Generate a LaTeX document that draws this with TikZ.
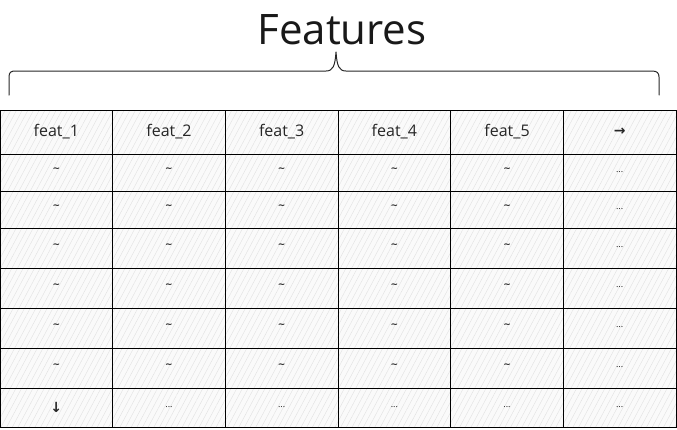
\documentclass[tikz,border=0pt]{standalone}
\usepackage{fontspec}
\setmainfont{Open Sans}
\newfontfamily\symfont{DejaVu Sans}
\usetikzlibrary{patterns.meta}
\begin{document}
\begin{tikzpicture}[x=1pt,y=-1pt,
  cellbox/.style={draw=black, line width=0.9pt, anchor=north west, inner sep=0pt, outer sep=0pt,
    minimum width=112.67pt, text=black!85,
    preaction={fill=gray!4},
    pattern={Lines[angle=62,distance=5pt,line width=0.35pt]}, pattern color=gray!25},
  headtxt/.style={font=\fontsize{16}{18}\selectfont},
  smalltxt/.style={font=\fontsize{9}{10}\selectfont},
  tildetxt/.style={font=\symfont\bfseries\fontsize{9}{10}\selectfont},
  arrowtxt/.style={font=\symfont\bfseries\fontsize{14}{14}\selectfont},
  bracestyle/.style={draw=black!85, line width=1pt, line cap=round, line join=round}]
\useasboundingbox (0,0) rectangle (677,429);
% title
\node[font=\fontsize{42}{46}\selectfont, text=black!90] (title) at (342,30) {Features};
% brace
\draw[bracestyle] (9,95) -- (9,77) .. controls (9,72) and (11,71) .. (16,71) -- (326,71)
  .. controls (333,71) and (335,66) .. (336,52)
  .. controls (337,66) and (339,71) .. (346,71) -- (652,71)
  .. controls (657,71) and (659,73) .. (659,77) -- (659,95);
% header row
\foreach \i/\t in {1/feat\_1,2/feat\_2,3/feat\_3,4/feat\_4,5/feat\_5} {
  \node[cellbox, headtxt, minimum height=44pt] (h\i) at ({(\i-1)*112.67},110) {\t};
}
\node[cellbox, arrowtxt, minimum height=44pt] (h6) at (563.33,110) {→};
% body rows
\foreach \r/\top/\h in {1/154/37,2/191/37,3/228/40,4/268/40,5/308/40,6/348/40} {
  \foreach \i in {1,...,5} {
    \node[cellbox, tildetxt, minimum height=\h pt, text depth=5pt] (c\r-\i) at ({(\i-1)*112.67},\top) {\textasciitilde};
  }
  \node[cellbox, smalltxt, minimum height=\h pt, text height=0pt] (c\r-6) at (563.33,\top) {...};
}
% last row
\node[cellbox, arrowtxt, minimum height=39pt] (c7-1) at (0,388) {↓};
\foreach \i in {2,...,6} {
  \node[cellbox, smalltxt, minimum height=39pt] (c7-\i) at ({(\i-1)*112.67},388) {...};
}
\end{tikzpicture}
\end{document}
